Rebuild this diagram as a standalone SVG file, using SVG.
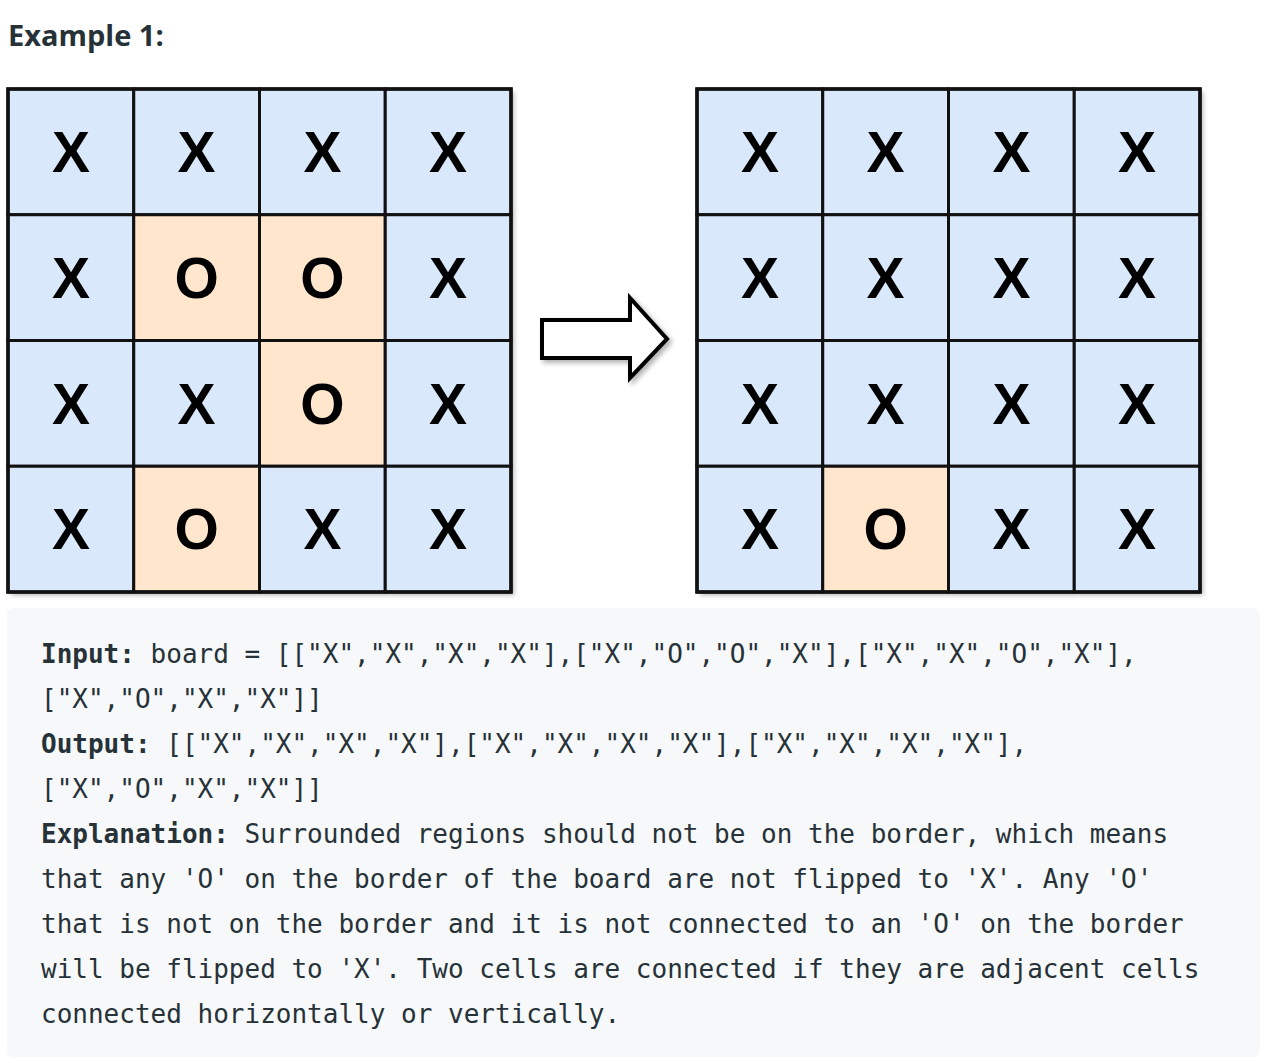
<svg xmlns="http://www.w3.org/2000/svg" width="1281" height="1063" viewBox="0 0 1281 1063">
<defs>
<filter id="sh" x="-10%" y="-10%" width="130%" height="130%">
<feDropShadow dx="3" dy="3" stdDeviation="2.5" flood-color="#000" flood-opacity="0.3"/>
</filter>
<style>
.x{fill:#dae8fc;stroke:#111;stroke-width:3}
.o{fill:#ffe6cc;stroke:#111;stroke-width:3}
.g{font-family:"Liberation Sans",Arial,sans-serif;font-weight:700;font-size:57px;fill:#000;text-anchor:middle}
.mono{font-family:"DejaVu Sans Mono",monospace;font-size:26px;fill:#263238;white-space:pre}
.b{font-weight:700}
</style>
</defs>
<rect width="1281" height="1063" fill="#fff"/>
<text x="8" y="46" font-family="'Open Sans','Noto Sans',sans-serif" font-weight="700" font-size="29" fill="#263238">Example 1:</text>

<g id="grid-input">
<rect x="8" y="89" width="503" height="503" fill="#dae8fc" filter="url(#sh)"/>
<g id="in-r0c0"><rect class="x" x="8" y="89" width="125.75" height="125.75"/><text class="g" x="70.9" y="172">X</text></g>
<g id="in-r0c1"><rect class="x" x="133.75" y="89" width="125.75" height="125.75"/><text class="g" x="196.6" y="172">X</text></g>
<g id="in-r0c2"><rect class="x" x="259.5" y="89" width="125.75" height="125.75"/><text class="g" x="322.4" y="172">X</text></g>
<g id="in-r0c3"><rect class="x" x="385.25" y="89" width="125.75" height="125.75"/><text class="g" x="448.1" y="172">X</text></g>
<g id="in-r1c0"><rect class="x" x="8" y="214.75" width="125.75" height="125.75"/><text class="g" x="70.9" y="297.75">X</text></g>
<g id="in-r1c1"><rect class="o" x="133.75" y="214.75" width="125.75" height="125.75"/><text class="g" x="196.6" y="297.75">O</text></g>
<g id="in-r1c2"><rect class="o" x="259.5" y="214.75" width="125.75" height="125.75"/><text class="g" x="322.4" y="297.75">O</text></g>
<g id="in-r1c3"><rect class="x" x="385.25" y="214.75" width="125.75" height="125.75"/><text class="g" x="448.1" y="297.75">X</text></g>
<g id="in-r2c0"><rect class="x" x="8" y="340.5" width="125.75" height="125.75"/><text class="g" x="70.9" y="423.5">X</text></g>
<g id="in-r2c1"><rect class="x" x="133.75" y="340.5" width="125.75" height="125.75"/><text class="g" x="196.6" y="423.5">X</text></g>
<g id="in-r2c2"><rect class="o" x="259.5" y="340.5" width="125.75" height="125.75"/><text class="g" x="322.4" y="423.5">O</text></g>
<g id="in-r2c3"><rect class="x" x="385.25" y="340.5" width="125.75" height="125.75"/><text class="g" x="448.1" y="423.5">X</text></g>
<g id="in-r3c0"><rect class="x" x="8" y="466.25" width="125.75" height="125.75"/><text class="g" x="70.9" y="549.25">X</text></g>
<g id="in-r3c1"><rect class="o" x="133.75" y="466.25" width="125.75" height="125.75"/><text class="g" x="196.6" y="549.25">O</text></g>
<g id="in-r3c2"><rect class="x" x="259.5" y="466.25" width="125.75" height="125.75"/><text class="g" x="322.4" y="549.25">X</text></g>
<g id="in-r3c3"><rect class="x" x="385.25" y="466.25" width="125.75" height="125.75"/><text class="g" x="448.1" y="549.25">X</text></g>
<rect x="8" y="89" width="503" height="503" fill="none" stroke="#111" stroke-width="3.5"/>
</g>

<g id="connectors">
<path id="arrow" d="M542,320 L630,320 L630,298 L667,339 L630,378 L630,358 L542,358 Z" fill="#fff" stroke="#000" stroke-width="4" stroke-linejoin="miter" filter="url(#sh)"/>
</g>

<g id="grid-output">
<rect x="697" y="89" width="503" height="503" fill="#dae8fc" filter="url(#sh)"/>
<g id="out-r0c0"><rect class="x" x="697" y="89" width="125.75" height="125.75"/><text class="g" x="759.9" y="172">X</text></g>
<g id="out-r0c1"><rect class="x" x="822.75" y="89" width="125.75" height="125.75"/><text class="g" x="885.6" y="172">X</text></g>
<g id="out-r0c2"><rect class="x" x="948.5" y="89" width="125.75" height="125.75"/><text class="g" x="1011.4" y="172">X</text></g>
<g id="out-r0c3"><rect class="x" x="1074.25" y="89" width="125.75" height="125.75"/><text class="g" x="1137.1" y="172">X</text></g>
<g id="out-r1c0"><rect class="x" x="697" y="214.75" width="125.75" height="125.75"/><text class="g" x="759.9" y="297.75">X</text></g>
<g id="out-r1c1"><rect class="x" x="822.75" y="214.75" width="125.75" height="125.75"/><text class="g" x="885.6" y="297.75">X</text></g>
<g id="out-r1c2"><rect class="x" x="948.5" y="214.75" width="125.75" height="125.75"/><text class="g" x="1011.4" y="297.75">X</text></g>
<g id="out-r1c3"><rect class="x" x="1074.25" y="214.75" width="125.75" height="125.75"/><text class="g" x="1137.1" y="297.75">X</text></g>
<g id="out-r2c0"><rect class="x" x="697" y="340.5" width="125.75" height="125.75"/><text class="g" x="759.9" y="423.5">X</text></g>
<g id="out-r2c1"><rect class="x" x="822.75" y="340.5" width="125.75" height="125.75"/><text class="g" x="885.6" y="423.5">X</text></g>
<g id="out-r2c2"><rect class="x" x="948.5" y="340.5" width="125.75" height="125.75"/><text class="g" x="1011.4" y="423.5">X</text></g>
<g id="out-r2c3"><rect class="x" x="1074.25" y="340.5" width="125.75" height="125.75"/><text class="g" x="1137.1" y="423.5">X</text></g>
<g id="out-r3c0"><rect class="x" x="697" y="466.25" width="125.75" height="125.75"/><text class="g" x="759.9" y="549.25">X</text></g>
<g id="out-r3c1"><rect class="o" x="822.75" y="466.25" width="125.75" height="125.75"/><text class="g" x="885.6" y="549.25">O</text></g>
<g id="out-r3c2"><rect class="x" x="948.5" y="466.25" width="125.75" height="125.75"/><text class="g" x="1011.4" y="549.25">X</text></g>
<g id="out-r3c3"><rect class="x" x="1074.25" y="466.25" width="125.75" height="125.75"/><text class="g" x="1137.1" y="549.25">X</text></g>
<rect x="697" y="89" width="503" height="503" fill="none" stroke="#111" stroke-width="3.5"/>
</g>

<g id="example-text">
<rect x="7" y="608" width="1253" height="449" rx="7" fill="#f7f8fa"/>
<text class="mono" x="41" y="663"><tspan class="b">Input:</tspan> board = [["X","X","X","X"],["X","O","O","X"],["X","X","O","X"],</text>
<text class="mono" x="41" y="708">["X","O","X","X"]]</text>
<text class="mono" x="41" y="753"><tspan class="b">Output:</tspan> [["X","X","X","X"],["X","X","X","X"],["X","X","X","X"],</text>
<text class="mono" x="41" y="798">["X","O","X","X"]]</text>
<text class="mono" x="41" y="843"><tspan class="b">Explanation:</tspan> Surrounded regions should not be on the border, which means</text>
<text class="mono" x="41" y="888">that any 'O' on the border of the board are not flipped to 'X'. Any 'O'</text>
<text class="mono" x="41" y="933">that is not on the border and it is not connected to an 'O' on the border</text>
<text class="mono" x="41" y="978">will be flipped to 'X'. Two cells are connected if they are adjacent cells</text>
<text class="mono" x="41" y="1023">connected horizontally or vertically.</text>
</g>
</svg>
